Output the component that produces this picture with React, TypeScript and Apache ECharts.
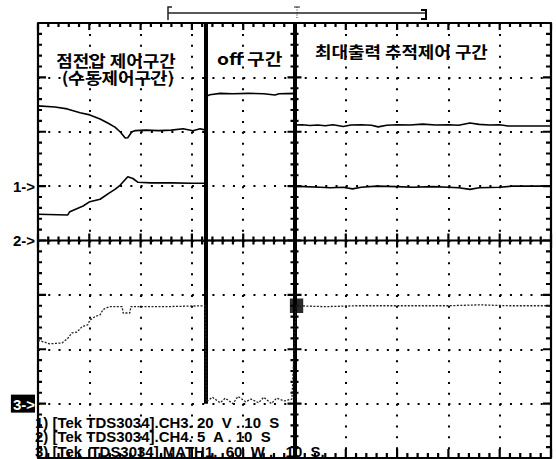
import React, { useEffect, useRef } from "react";
import * as echarts from "echarts";

// ---- oscilloscope settings ----
const TIME_MIN_S = 0;
const TIME_MAX_S = 100; // 10 s/div x 10 div
const TIME_PER_DIV_S = 10;
const Y_DIVS = 8;
const MINOR_PER_DIV = 5;

// channel ground markers (division counted from bottom) and scales
const CH1_MARKER_DIV = 5; // voltage, 20 V/div
const CH1_PER_DIV = 20;
const CH2_MARKER_DIV = 4; // current, 5 A/div
const CH2_PER_DIV = 5;
const CH3_MARKER_DIV = 1; // power (MATH1), 60 W/div
const CH3_PER_DIV = 60;

// event times (s)
const OFF_START_S = 32.7;
const MPPT_START_S = 50;

// ---- traces ----
const voltageTime = [
  0, 3.3, 5.7, 8.2, 10.1, 12.1, 13.6, 15.0, 16.0, 17.0, 17.5, 18.3, 18.9, 21.0, 23.5, 26.0, 28.3, 30.2, 31.6, 32.7,
  32.8, 33.5, 35.5, 38, 41, 44, 46.2, 47, 49.9,
  50.0, 51.5, 53, 54.5, 56, 57.5, 59.5, 61, 63, 65, 66.3, 68, 70, 72.5, 75, 77.5, 80, 82, 84.2, 86, 88, 90, 91.6, 94, 97, 100,
];
const voltageValue = [
  29.5, 29.1, 28.4, 27.0, 26.2, 24.7, 23.2, 21.7, 20.0, 17.7, 17.8, 20.0, 20.4, 20.6, 20.4, 20.6, 21.1, 20.4, 21.1, 20.6,
  33.1, 33.6, 34.1, 34.0, 34.1, 34.0, 33.5, 34.0, 34.1,
  22.5, 22.6, 22.3, 22.5, 22.2, 22.6, 21.9, 22.5, 22.6, 22.4, 21.8, 22.4, 22.6, 22.5, 22.8, 22.5, 22.6, 22.4, 23.2, 22.7, 22.5, 22.6, 22.1, 22.1, 22.1, 22.1,
];

const currentTime = [
  0, 5.8, 6.2, 8.8, 10.1, 12.1, 14.0, 15.0, 16.0, 17.5, 18.5, 19.5, 22, 26, 30, 32.7,
  32.75, 49.9,
  50, 52, 55, 57, 59.5, 61.3, 63, 66, 70, 73, 77, 80, 82, 84.2, 86, 90, 92.6, 96, 100,
];
const currentValue = [
  2.41, 2.35, 2.65, 3.17, 3.57, 3.79, 4.4, 4.7, 5.08, 5.87, 5.7, 5.35, 5.3, 5.3, 5.26, 5.26,
  0, 0,
  5.0, 4.95, 4.9, 4.85, 4.9, 4.75, 4.9, 5.0, 4.95, 4.9, 4.95, 4.9, 4.85, 4.7, 4.85, 4.9, 5.0, 5.0, 5.0,
];

const powerTime = [
  0, 2.3, 4.7, 5.8, 6.6, 7.6, 8.6, 9.7, 10.1, 11.1, 12.1, 12.7, 14.0, 16.4, 16.6, 17.9, 18.1, 25, 32.6,
  32.8, 34, 35.5, 36.5, 38, 39, 40.5, 41.5, 43, 44, 45.5, 46.5, 48, 49.5,
  50.3, 56, 62, 70, 80, 86, 92, 100,
];
const powerValue = [
  70, 66, 67, 72, 78, 79, 85, 87, 92, 96, 98, 104, 107, 107, 100, 100, 107, 107, 108,
  2, 7, 1, 6, 0, 8, 2, 5, 1, 7, 0, 6, 3, 5,
  108, 107, 108, 108, 108, 109, 108, 108,
];

// dark blob on the power trace where MPPT starts: [t0, t1, p0, p1]
const mpptBlob = [49.1, 51.7, 100, 116];

const markerLabels = ["1->", "2->", "3->"];
const sectionTitles = ["점전압 제어구간", "(수동제어구간)", "off 구간", "최대출력 추적제어 구간"];
const infoLines = [
  "1) [Tek TDS3034].CH3. 20  V . 10  S",
  "2) [Tek TDS3034].CH4. 5  A . 10  S",
  "3) [Tek  TDS3034].MATH1.  60  W .   10  S.",
];

const toDiv = (v: number, marker: number, perDiv: number) => marker + v / perDiv;

export default function App() {
  const ref = useRef<HTMLDivElement>(null);
  useEffect(() => {
    if (!ref.current) return;
    const chart = echarts.init(ref.current, undefined, { renderer: "svg" });
    const black = "#000";
    const font = "'Liberation Sans', Arial, sans-serif";
    const kfont = "'Noto Sans CJK KR', sans-serif";
    const L = 38, T = 23, W = 513, H = 435;
    const sPerPx = (TIME_MAX_S - TIME_MIN_S) / W;
    const dPerPx = Y_DIVS / H;
    const midT = (TIME_MIN_S + TIME_MAX_S) / 2;
    const midY = Y_DIVS / 2;

    // graticule edges drawn as comb polylines: edge line plus tick marks
    const xTicks: number[] = [];
    for (let i = 0; i <= ((TIME_MAX_S - TIME_MIN_S) / TIME_PER_DIV_S) * MINOR_PER_DIV; i++) xTicks.push(i);
    const yTicks: number[] = [];
    for (let j = 0; j <= Y_DIVS * MINOR_PER_DIV; j++) yTicks.push(j);
    const tT = (i: number) => TIME_MIN_S + (i * TIME_PER_DIV_S) / MINOR_PER_DIV;
    const tD = (j: number) => j / MINOR_PER_DIV;
    const isMajor = (k: number) => k % MINOR_PER_DIV === 0;

    const combX = (base: number, up: (k: number) => number, down: (k: number) => number) => {
      const pts: number[][] = [];
      xTicks.forEach((i) => {
        const t = tT(i);
        pts.push([t, base], [t, base + up(i) * dPerPx], [t, base - down(i) * dPerPx], [t, base]);
      });
      return pts;
    };
    const combY = (base: number, right: (k: number) => number, left: (k: number) => number) => {
      const pts: number[][] = [];
      yTicks.forEach((j) => {
        const d = tD(j);
        pts.push([base, d], [base + right(j) * sPerPx, d], [base - left(j) * sPerPx, d], [base, d]);
      });
      return pts;
    };
    const frameLines = [
      combX(Y_DIVS, () => 0, (k) => (isMajor(k) ? 7 : 4)), // top
      combX(0, (k) => (isMajor(k) ? 9 : 5), () => 0), // bottom
      combX(midY, (k) => (isMajor(k) ? 7 : 4), (k) => (isMajor(k) ? 7 : 4)), // centre horizontal
      combY(TIME_MIN_S, (k) => (isMajor(k) ? 8 : 4), () => 0), // left
      combY(TIME_MAX_S, () => 0, (k) => (isMajor(k) ? 8 : 5)), // right
      combY(midT, (k) => (isMajor(k) ? 7 : 4), (k) => (isMajor(k) ? 7 : 4)), // centre vertical
    ];

    chart.setOption({
      animation: false,
      backgroundColor: "#fff",
      grid: { left: L, top: T, width: W, height: H },
      xAxis: {
        type: "value",
        min: TIME_MIN_S,
        max: TIME_MAX_S,
        interval: TIME_PER_DIV_S,
        axisLine: { show: false, onZero: false },
        axisTick: { show: false },
        axisLabel: { show: false },
        splitLine: { show: true, lineStyle: { color: black, width: 2, type: [2, 8.875] } },
      },
      yAxis: {
        type: "value",
        position: "left",
        min: 0,
        max: Y_DIVS,
        interval: 1,
        axisLine: { show: false, onZero: false },
        axisTick: { show: false },
        splitLine: { show: true, lineStyle: { color: black, width: 2, type: [2, 8.26] } },
        axisLabel: {
          show: true,
          margin: 3,
          color: black,
          fontFamily: font,
          fontWeight: "bold",
          fontSize: 15,
          formatter: (v: number) =>
            v === CH1_MARKER_DIV
              ? markerLabels[0]
              : v === CH2_MARKER_DIV
              ? markerLabels[1]
              : v === CH3_MARKER_DIV
              ? "{box|" + markerLabels[2] + "}"
              : "",
          rich: {
            box: {
              backgroundColor: black,
              color: "#fff",
              fontFamily: font,
              fontWeight: "bold",
              fontSize: 15,
              padding: [2, 0, 1, 2],
            },
          },
        },
      },
      series: [
        ...frameLines.map((pts, k) => ({
          name: "graticule" + k,
          type: "line",
          symbol: "none",
          silent: true,
          clip: false,
          data: pts,
          lineStyle: { color: black, width: 2.2, join: "bevel" },
          z: 4,
        })),
        {
          name: "voltage",
          type: "line",
          symbol: "none",
          data: voltageTime.map((t, i) => [t, toDiv(voltageValue[i], CH1_MARKER_DIV, CH1_PER_DIV)]),
          lineStyle: { color: black, width: 1.6 },
          z: 5,
        },
        {
          name: "current",
          type: "line",
          symbol: "none",
          data: currentTime.map((t, i) => [t, toDiv(currentValue[i], CH2_MARKER_DIV, CH2_PER_DIV)]),
          lineStyle: { color: black, width: 1.6 },
          z: 5,
        },
        {
          name: "power",
          type: "line",
          symbol: "none",
          data: powerTime.map((t, i) => [t, toDiv(powerValue[i], CH3_MARKER_DIV, CH3_PER_DIV)]),
          lineStyle: { color: "#222", width: 1.3, type: [2, 1.5] },
          z: 5,
          markArea: {
            silent: true,
            itemStyle: { color: "#2a2a2a" },
            data: [
              [
                { coord: [mpptBlob[0], toDiv(mpptBlob[3], CH3_MARKER_DIV, CH3_PER_DIV)] },
                { coord: [mpptBlob[1], toDiv(mpptBlob[2], CH3_MARKER_DIV, CH3_PER_DIV)] },
              ],
            ],
          },
        },
        {
          name: "markers",
          type: "line",
          data: [],
          z: 6,
          markLine: {
            silent: true,
            symbol: ["none", "none"],
            label: { show: false },
            lineStyle: { color: black, width: 4, type: "solid" },
            data: [
              [{ coord: [OFF_START_S, CH3_MARKER_DIV] }, { coord: [OFF_START_S, Y_DIVS] }],
              [{ coord: [MPPT_START_S, 0] }, { coord: [MPPT_START_S, Y_DIVS] }],
            ],
          },
        },
      ],
      graphic: [
        // record bar at the top
        { type: "line", shape: { x1: 168, y1: 13, x2: 425, y2: 13 }, style: { stroke: "#222", lineWidth: 1.5 } },
        { type: "polyline", shape: { points: [[172, 7], [168, 7], [168, 20]] }, style: { stroke: "#222", lineWidth: 1.5, fill: "none" } },
        { type: "polyline", shape: { points: [[421, 10], [426, 10], [426, 19], [421, 19]] }, style: { stroke: "#000", lineWidth: 2, fill: "none" } },
        { type: "line", shape: { x1: 294, y1: 7, x2: 300, y2: 7 }, style: { stroke: "#222", lineWidth: 1 } },
        { type: "line", shape: { x1: 297, y1: 7, x2: 297, y2: 19 }, style: { stroke: "#222", lineWidth: 1, lineDash: [1, 1.5] } },
        // section titles
        {
          type: "text", x: 116, y: 60, scaleX: 1.12, z: 20,
          style: { text: sectionTitles[0], fontFamily: kfont, fontWeight: "bold", fontSize: 16, fill: black, align: "center", verticalAlign: "middle" },
        },
        {
          type: "text", x: 118, y: 77, scaleX: 1.12, z: 20,
          style: { text: sectionTitles[1], fontFamily: kfont, fontWeight: "bold", fontSize: 16, fill: black, align: "center", verticalAlign: "middle" },
        },
        {
          type: "text", x: 217, y: 58, scaleX: 1.2, z: 20,
          style: { text: sectionTitles[2], fontFamily: kfont, fontWeight: "bold", fontSize: 16, fill: black, verticalAlign: "middle" },
        },
        {
          type: "text", x: 315, y: 51, scaleX: 1.12, z: 20,
          style: { text: sectionTitles[3], fontFamily: kfont, fontWeight: "bold", fontSize: 16, fill: black, verticalAlign: "middle" },
        },
        // info lines
        ...infoLines.map((t, i) => ({
          type: "text",
          x: 35,
          y: 423 + i * 14.5,
          scaleX: 1.07,
          z: 20,
          style: { text: t, fontFamily: font, fontWeight: "bold", fontSize: 14, fill: black, verticalAlign: "middle" },
        })),
      ],
    });
    return () => chart.dispose();
  }, []);
  return (
    <div
      ref={ref}
      style={{ position: "fixed", left: 0, top: 0, width: 556, height: 459, background: "#fff" }}
    />
  );
}
